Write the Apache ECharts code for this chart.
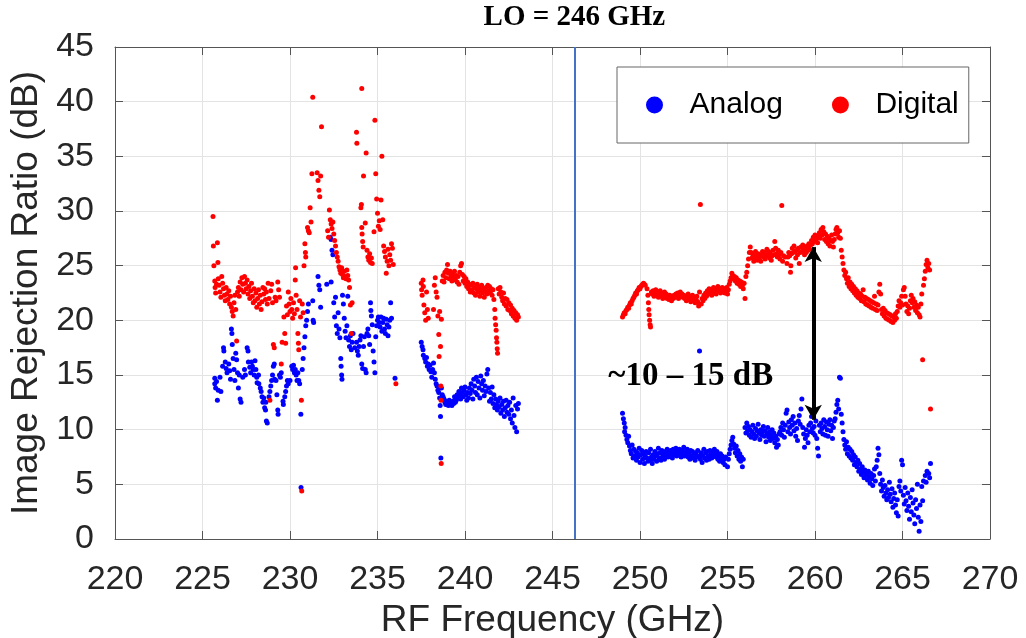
<!DOCTYPE html>
<html>
<head>
<meta charset="utf-8">
<script src="https://cdn.jsdelivr.net/npm/echarts@6/dist/echarts.min.js"></script>
<style>
html,body{margin:0;padding:0;background:#fff;}
#chart{width:1026px;height:638px;}
</style>
</head>
<body>
<div id="chart"></div>
<script>
// ---- axis ticks ----
const xTicks = [220, 225, 230, 235, 240, 245, 250, 255, 260, 265, 270];
const yTicks = [0, 5, 10, 15, 20, 25, 30, 35, 40, 45];
const seriesNames = ['Analog', 'Digital'];

// ---- annotation values ----
const loFreq = 246.25;
const titleText = 'LO = 246 GHz';
const gapText = '~10 \u2013 15 dB';
const gapX = 259.9, gapLow = 10.9, gapHigh = 26.7;
const gapTextAt = [252.9, 14.9];

// ---- Analog (blue) ----
const analogLow = [[225.7,14.7],[225.7,14.2],[225.75,13.8],[225.8,14.4],[225.85,12.7],[225.9,13.6],[226.0,14.8],[226.05,13.5],[226.15,15.8],[226.2,17.5],[226.22,17.2],[226.3,16.2],[226.35,15.6],[226.4,15.2],[226.5,16.0],[226.55,15.4],[226.6,14.6],[226.65,19.2],[226.68,18.8],[226.7,17.8],[226.75,16.5],[226.8,15.5],[226.85,14.5],[226.9,17.0],[226.95,16.4],[227.0,15.2],[227.05,13.8],[227.1,15.0],[227.15,12.8],[227.2,12.5],[227.3,14.8],[227.4,15.5],[227.45,15.0],[227.55,17.5],[227.6,17.2],[227.62,16.2],[227.7,15.7],[227.75,15.2],[227.8,16.2],[227.85,15.8],[227.9,15.5],[227.95,15.0],[228.0,16.3],[228.05,15.5],[228.1,14.8],[228.12,14.3],[228.2,15.0],[228.22,14.2],[228.3,13.8],[228.35,13.5],[228.4,13.0],[228.45,12.5],[228.5,12.9],[228.55,12.0],[228.6,11.8],[228.62,12.5],[228.65,10.8],[228.7,10.6],[228.8,13.0],[228.85,13.5],[228.9,14.0],[228.95,14.5],[229.0,15.0],[229.05,15.8],[229.1,16.0],[229.12,14.6],[229.2,14.5],[229.25,13.2],[229.3,11.8],[229.32,11.4],[229.4,15.0],[229.45,14.8],[229.5,15.2],[229.6,12.6],[229.62,12.3],[229.7,13.0],[229.75,13.5],[229.8,14.0],[229.85,14.5],[229.9,14.2],[230.0,14.5],[230.1,15.8],[230.15,15.5],[230.2,15.9],[230.25,15.2],[230.3,15.5],[230.35,15.0],[230.4,14.5],[230.45,15.2],[230.5,14.5],[230.55,14.2],[230.62,11.4],[230.63,4.7],[230.7,15.5],[230.75,16.5],[230.8,17.5],[230.85,18.5],[230.9,19.5],[230.95,20.0],[231.0,20.8],[231.05,21.5],[231.3,21.8],[231.32,20.0],[231.35,19.8],[231.6,24.0],[231.65,23.2],[231.7,22.8],[231.75,21.2],[232.1,23.3],[232.3,27.6],[232.35,27.4],[232.4,26.4],[232.45,26.0],[232.35,23.5],[232.5,21.6],[232.55,20.3],[232.6,22.1],[232.65,19.5],[232.7,18.8],[232.75,20.7],[232.8,19.2],[232.85,18.4],[232.9,16.5],[232.92,15.8],[232.95,15.0],[232.97,14.6],[233.0,22.3],[233.05,21.5],[233.1,20.2],[233.15,19.0],[233.2,18.4],[233.25,19.5],[233.3,22.2],[233.35,18.2],[233.4,17.6],[233.45,18.6],[233.5,17.3],[233.55,18.0],[233.6,18.8],[233.7,17.5],[233.8,18.0],[233.85,17.2],[233.9,16.8],[233.95,17.6],[234.0,18.2],[234.05,18.6],[234.1,16.0],[234.15,15.6],[234.2,17.6],[234.25,18.5],[234.3,15.5],[234.35,15.2],[234.4,18.8],[234.45,19.2],[234.5,18.6],[234.55,17.8],[234.6,21.6],[234.62,20.9],[234.65,20.4],[234.7,19.6],[234.75,17.2],[234.8,16.2],[234.85,15.2],[234.9,18.5],[234.95,19.5],[235.0,20.0],[235.05,20.3],[235.1,19.8],[235.15,19.4],[235.2,20.3],[235.25,19.0],[235.3,19.8],[235.35,20.2],[235.4,19.2],[235.45,18.8],[235.5,20.1],[235.55,19.6],[235.6,18.6],[235.65,19.4],[235.7,20.0],[235.75,21.6],[235.8,20.2],[236.0,14.7]];

const analogMid = [[237.5,18.0],[237.55,17.6],[237.6,17.3],[237.62,16.8],[237.7,16.5],[237.75,16.2],[237.8,16.6],[237.85,15.8],[237.9,16.0],[237.95,15.5],[238.0,15.9],[238.05,15.3],[238.1,14.8],[238.15,15.5],[238.2,16.1],[238.25,15.2],[238.3,14.6],[238.35,14.2],[238.4,14.0],[238.45,13.6],[238.5,13.4],[238.55,12.9],[238.58,12.2],[238.6,11.2],[238.62,7.4],[238.65,13.8],[238.7,13.2],[238.75,13.0],[238.8,12.8],[238.85,12.5],[238.9,12.3],[238.95,12.6],[239.0,12.4],[239.05,12.2],[239.1,12.7],[239.15,12.3],[239.2,12.5],[239.25,12.2],[239.3,12.6],[239.35,12.4],[239.4,13.0],[239.45,12.5],[239.5,12.7],[239.55,13.2],[239.6,12.9],[239.65,13.5],[239.7,13.2],[239.75,12.8],[239.8,13.8],[239.85,13.4],[239.9,13.0],[239.95,13.6],[240.0,13.9],[240.05,13.2],[240.1,12.7],[240.15,13.4],[240.2,12.9],[240.25,13.8],[240.3,13.3],[240.35,14.2],[240.4,13.6],[240.45,12.8],[240.5,14.6],[240.55,14.0],[240.6,13.4],[240.65,14.8],[240.7,13.2],[240.75,14.4],[240.8,13.8],[240.85,12.9],[240.9,14.9],[240.95,14.2],[241.0,13.6],[241.05,14.5],[241.1,13.1],[241.15,14.0],[241.2,13.5],[241.25,15.1],[241.3,15.5],[241.35,13.8],[241.4,12.6],[241.45,13.4],[241.5,12.8],[241.55,13.9],[241.6,12.4],[241.65,13.2],[241.7,12.0],[241.75,12.8],[241.8,12.3],[241.85,11.8],[241.9,12.6],[241.95,12.1],[242.0,12.9],[242.05,11.5],[242.1,12.3],[242.15,11.8],[242.2,12.6],[242.25,11.2],[242.3,12.0],[242.35,12.7],[242.4,11.6],[242.45,12.2],[242.5,11.4],[242.55,12.5],[242.6,11.0],[242.65,11.8],[242.7,10.6],[242.75,12.9],[242.8,11.3],[242.85,10.2],[242.9,12.2],[242.95,9.8],[243.0,11.9],[243.05,12.4]];

const analogHigh = [[249.0,11.5],[249.05,11.0],[249.1,10.6],[249.12,9.8],[249.15,10.2],[249.2,9.5],[249.25,9.1],[249.3,8.8],[249.35,9.4],[249.4,8.5],[249.45,8.1],[249.5,7.8],[249.55,8.6],[249.6,7.4],[249.65,8.2],[249.7,7.6],[249.75,8.0],[249.8,7.2],[249.85,7.9],[249.9,7.5],[249.95,8.3],[250.0,7.0],[250.05,7.7],[250.1,8.1],[250.15,7.3],[250.2,7.8],[250.25,6.9],[250.3,7.6],[250.35,8.0],[250.4,7.4],[250.45,7.1],[250.5,7.9],[250.55,7.2],[250.6,8.2],[250.65,7.5],[250.7,6.9],[250.75,7.7],[250.8,7.3],[250.85,8.0],[250.9,7.6],[250.95,7.1],[251.0,7.8],[251.05,8.3],[251.1,7.4],[251.15,7.9],[251.2,7.2],[251.25,8.1],[251.3,7.6],[251.35,7.9],[251.4,7.3],[251.45,8.0],[251.5,7.7],[251.55,8.2],[251.6,7.5],[251.65,7.9],[251.7,7.6],[251.75,8.1],[251.8,7.8],[251.85,7.4],[251.9,8.2],[251.95,7.7],[252.0,7.9],[252.05,8.3],[252.1,7.6],[252.15,8.0],[252.2,7.7],[252.25,8.2],[252.3,7.9],[252.35,7.5],[252.4,8.1],[252.45,7.8],[252.5,8.4],[252.55,7.6],[252.6,8.0],[252.65,7.7],[252.7,8.2],[252.75,7.5],[252.8,7.9],[252.85,7.3],[252.9,8.1],[252.95,7.6],[253.0,8.0],[253.05,7.4],[253.1,7.8],[253.15,7.2],[253.2,7.9],[253.25,7.5],[253.3,8.1],[253.35,7.6],[253.4,17.2],[253.45,7.3],[253.5,7.9],[253.55,7.0],[253.6,7.6],[253.65,8.2],[253.7,7.4],[253.75,7.9],[253.8,7.2],[253.85,8.0],[253.9,7.6],[253.95,7.3],[254.0,8.1],[254.05,7.7],[254.1,7.4],[254.15,8.0],[254.2,7.6],[254.25,8.2],[254.3,7.8],[254.35,7.5],[254.4,8.0],[254.45,7.3],[254.5,7.7],[254.55,7.1],[254.6,7.8],[254.65,7.4],[254.7,7.6],[254.75,7.0],[254.8,7.3],[254.85,6.8],[254.9,7.5],[255.0,6.6],[255.05,7.3],[255.1,7.8],[255.15,8.2],[255.2,8.6],[255.25,9.0],[255.3,9.3],[255.35,8.7],[255.4,8.3],[255.45,7.9],[255.5,8.5],[255.55,7.6],[255.6,8.1],[255.65,7.3],[255.7,7.8],[255.75,7.1],[255.8,7.5],[255.85,6.6],[255.9,7.3],[256.0,10.2],[256.05,9.7],[256.1,10.6],[256.15,9.9],[256.2,10.3],[256.25,9.5],[256.3,10.0],[256.35,9.3],[256.4,9.8],[256.45,10.4],[256.5,9.6],[256.55,9.2],[256.6,10.1],[256.65,9.4],[256.7,9.9],[256.75,10.5],[256.8,9.7],[256.85,9.1],[256.9,10.0],[256.95,9.5],[257.0,9.8],[257.05,10.3],[257.1,9.4],[257.15,9.9],[257.2,8.9],[257.25,9.6],[257.3,10.2],[257.35,9.3],[257.4,9.8],[257.45,9.0],[257.5,9.5],[257.55,10.0],[257.6,9.2],[257.65,9.7],[257.7,8.8],[257.75,9.4],[257.8,8.4],[257.85,9.1],[257.9,8.6],[257.95,9.6],[258.0,9.8],[258.05,10.2],[258.1,9.5],[258.15,10.6],[258.2,10.0],[258.25,9.3],[258.3,10.4],[258.35,11.5],[258.4,11.8],[258.45,9.8],[258.5,10.7],[258.55,10.2],[258.6,9.6],[258.65,10.9],[258.7,10.4],[258.75,11.2],[258.8,9.9],[258.85,10.6],[258.9,9.4],[258.95,10.1],[259.0,9.0],[259.05,10.8],[259.1,11.3],[259.15,10.5],[259.2,11.9],[259.25,12.8],[259.3,10.2],[259.35,9.6],[259.4,8.4],[259.45,9.2],[259.5,10.0],[259.55,9.5],[259.6,8.8],[259.65,10.4],[259.7,9.8],[259.75,10.6],[259.8,11.2],[259.85,10.1],[259.9,9.7],[259.95,10.3],[260.0,9.5],[260.05,10.8],[260.1,9.2],[260.15,8.3],[260.2,7.6],[260.25,10.4],[260.3,9.8],[260.35,10.6],[260.4,10.1],[260.45,9.6],[260.5,10.9],[260.55,10.3],[260.6,9.5],[260.65,10.7],[260.7,10.0],[260.75,9.4],[260.8,10.5],[260.85,10.9],[260.9,9.9],[260.95,10.4],[261.0,9.2],[261.05,10.2],[261.1,10.8],[261.15,11.0],[261.2,11.6],[261.25,12.3],[261.3,12.7],[261.35,11.9],[261.4,14.8],[261.45,14.7],[261.5,11.4],[261.55,10.6],[261.6,9.8],[261.65,9.1],[261.7,8.6],[261.75,8.2],[261.8,8.9],[261.85,7.8],[261.9,8.4],[261.95,7.6],[262.0,8.2],[262.05,7.4],[262.1,8.0],[262.15,7.2],[262.2,7.7],[262.25,6.8],[262.3,7.5],[262.35,7.0],[262.4,6.6],[262.45,7.2],[262.5,6.2],[262.55,6.9],[262.6,6.4],[262.65,5.9],[262.7,6.6],[262.75,6.1],[262.8,5.6],[262.85,6.3],[262.9,5.8],[262.95,6.0],[263.0,5.4],[263.05,6.2],[263.1,5.7],[263.15,5.1],[263.2,6.0],[263.25,5.5],[263.3,4.9],[263.35,5.8],[263.4,6.4],[263.45,5.3],[263.5,6.6],[263.55,7.2],[263.6,8.3],[263.65,7.7],[263.7,6.0],[263.75,5.0],[263.8,4.4],[263.85,5.4],[263.9,4.7],[263.95,3.9],[264.0,4.9],[264.05,4.2],[264.1,3.6],[264.15,4.5],[264.2,3.8],[264.25,5.2],[264.3,4.1],[264.35,3.4],[264.4,4.6],[264.45,2.9],[264.5,3.7],[264.55,4.2],[264.6,3.1],[264.65,2.4],[264.7,3.6],[264.75,2.1],[264.8,4.8],[264.85,5.3],[264.9,4.4],[264.95,7.2],[265.0,6.8],[265.05,4.0],[265.1,3.2],[265.15,4.7],[265.2,3.5],[265.25,2.6],[265.3,4.2],[265.35,3.0],[265.4,1.8],[265.45,3.8],[265.5,2.5],[265.55,4.5],[265.6,3.3],[265.65,2.2],[265.7,1.4],[265.75,3.6],[265.8,2.8],[265.85,5.0],[265.9,2.0],[265.95,0.7],[266.0,3.1],[266.05,1.6],[266.1,4.8],[266.15,3.5],[266.2,5.3],[266.3,5.8],[266.35,5.2],[266.4,6.2],[266.5,6.0],[266.55,5.6],[266.6,6.9]];

// ---- Digital (red) ----
const digitalLow = [[225.6,29.5],[225.62,26.8],[225.65,25.0],[225.7,23.6],[225.72,23.0],[225.75,22.5],[225.8,23.3],[225.85,27.1],[225.88,25.3],[225.9,23.8],[225.95,23.2],[226.0,22.6],[226.05,22.1],[226.1,24.0],[226.15,23.4],[226.2,22.9],[226.25,22.3],[226.3,21.8],[226.35,23.0],[226.4,22.4],[226.45,21.9],[226.5,22.7],[226.55,21.5],[226.6,22.2],[226.65,21.2],[226.7,20.8],[226.75,20.4],[226.8,21.6],[226.85,22.3],[226.9,21.0],[226.95,18.1],[227.0,22.6],[227.05,23.0],[227.1,22.2],[227.15,23.5],[227.2,22.8],[227.25,23.9],[227.3,23.3],[227.35,22.6],[227.4,24.0],[227.45,23.4],[227.5,22.9],[227.55,23.7],[227.6,22.4],[227.65,23.1],[227.7,22.0],[227.75,22.7],[227.8,23.4],[227.85,22.2],[227.9,21.6],[227.95,22.9],[228.0,21.8],[228.05,22.5],[228.1,21.2],[228.15,22.0],[228.2,22.8],[228.25,21.5],[228.3,22.3],[228.35,21.0],[228.4,21.7],[228.45,23.0],[228.5,22.4],[228.55,22.9],[228.6,21.9],[228.65,22.6],[228.7,21.5],[228.75,23.4],[228.8,22.0],[228.85,12.7],[228.9,22.7],[228.95,23.3],[229.0,21.6],[229.05,17.8],[229.1,17.5],[229.15,22.1],[229.2,21.8],[229.3,23.5],[229.35,22.8],[229.4,22.1],[229.5,16.0],[229.55,18.0],[229.65,20.3],[229.7,18.8],[229.75,17.9],[229.8,21.3],[229.85,20.5],[229.9,22.6],[229.95,21.5],[230.0,20.8],[230.05,22.0],[230.1,21.0],[230.15,20.2],[230.2,21.6],[230.25,20.6],[230.3,23.7],[230.32,24.8],[230.35,22.3],[230.4,21.0],[230.45,18.8],[230.48,17.9],[230.5,17.3],[230.55,21.8],[230.6,20.3],[230.65,12.7],[230.67,4.4],[230.7,21.5],[230.75,20.7],[230.8,25.0],[230.85,27.0],[230.88,26.2],[230.9,25.8],[231.0,28.5],[231.05,28.2],[231.1,28.0],[231.15,30.3],[231.2,29.0],[231.25,33.4],[231.3,40.4],[231.55,33.5],[231.6,32.8],[231.65,31.9],[231.7,31.3],[231.75,33.2],[231.8,37.7],[232.15,28.2],[232.2,27.6],[232.25,30.1],[232.3,29.2],[232.35,28.8],[232.4,28.4],[232.45,29.0],[232.5,27.9],[232.55,27.3],[232.6,26.8],[232.65,26.2],[232.7,25.8],[232.75,25.4],[232.8,24.9],[232.85,24.6],[232.9,24.3],[232.95,24.8],[233.0,24.2],[233.05,23.9],[233.1,24.5],[233.15,24.0],[233.2,23.8],[233.25,24.6],[233.3,24.1],[233.35,23.7],[233.4,23.0],[233.45,21.4],[233.5,18.8],[233.55,21.6],[233.8,37.2],[233.82,36.2],[234.05,30.3],[234.08,30.6],[234.1,28.5],[234.12,27.9],[234.15,27.2],[234.18,26.7],[234.1,41.2],[234.2,33.2],[234.3,28.9],[234.35,35.3],[234.4,26.4],[234.45,25.8],[234.5,25.5],[234.55,26.1],[234.6,25.3],[234.65,25.7],[234.7,25.2],[234.8,28.1],[234.85,38.3],[234.9,33.4],[234.95,31.1],[235.0,29.8],[235.05,28.6],[235.1,29.1],[235.15,28.3],[235.2,31.0],[235.25,35.0],[235.3,29.2],[235.35,26.8],[235.4,26.3],[235.45,25.8],[235.5,24.3],[235.55,25.4],[235.6,26.5],[235.65,25.0],[235.7,26.0],[235.75,25.5],[235.8,27.0],[235.85,26.6],[235.9,25.1],[236.05,14.2]];

const digitalMid = [[237.5,23.4],[237.52,22.8],[237.55,22.3],[237.6,23.7],[237.62,23.1],[237.65,21.4],[237.7,20.7],[237.75,20.0],[237.8,22.6],[237.85,21.0],[237.9,20.2],[238.2,21.0],[238.25,23.2],[238.3,23.9],[238.35,22.6],[238.4,22.1],[238.45,20.4],[238.5,18.7],[238.52,16.7],[238.55,20.8],[238.6,17.6],[238.62,14.0],[238.63,12.7],[238.64,6.9],[238.65,20.1],[238.7,23.6],[238.75,24.1],[238.8,23.5],[238.85,24.4],[238.9,23.9],[238.95,24.6],[239.0,25.1],[239.05,24.3],[239.1,23.8],[239.15,24.5],[239.2,24.0],[239.25,23.6],[239.3,24.2],[239.35,23.9],[239.4,24.5],[239.45,23.7],[239.5,24.1],[239.55,23.5],[239.6,24.0],[239.65,23.3],[239.7,24.4],[239.75,25.0],[239.8,25.2],[239.85,24.2],[239.9,23.6],[239.95,24.0],[240.0,23.4],[240.05,23.8],[240.1,23.1],[240.15,23.5],[240.2,22.9],[240.25,23.3],[240.3,22.6],[240.35,23.2],[240.4,22.8],[240.45,23.4],[240.5,22.5],[240.55,23.0],[240.6,22.3],[240.65,22.9],[240.7,23.3],[240.75,22.6],[240.8,23.0],[240.85,22.2],[240.9,22.7],[240.95,23.2],[241.0,22.5],[241.05,22.9],[241.1,22.1],[241.15,22.6],[241.2,23.0],[241.25,22.4],[241.3,23.2],[241.35,22.7],[241.4,23.1],[241.45,22.5],[241.5,22.9],[241.55,22.3],[241.6,22.8],[241.65,21.9],[241.7,21.0],[241.72,20.2],[241.75,19.6],[241.78,19.1],[241.8,18.4],[241.82,18.0],[241.84,17.4],[241.86,17.0],[241.9,22.9],[241.95,22.4],[242.0,23.0],[242.05,22.6],[242.1,22.1],[242.15,21.8],[242.2,22.5],[242.25,21.5],[242.3,22.0],[242.35,21.3],[242.4,21.9],[242.45,21.0],[242.5,21.6],[242.55,20.9],[242.6,21.4],[242.65,20.6],[242.7,21.1],[242.75,20.4],[242.8,20.9],[242.85,20.2],[242.9,20.7],[242.95,20.0],[243.0,20.5],[243.05,20.3]];

const digitalHigh = [[249.0,20.3],[249.05,20.5],[249.1,20.7],[249.15,20.6],[249.2,20.9],[249.25,21.0],[249.3,21.2],[249.35,21.1],[249.4,21.4],[249.45,21.6],[249.5,21.5],[249.55,21.8],[249.6,22.0],[249.65,22.1],[249.7,22.3],[249.75,22.5],[249.8,22.4],[249.85,22.7],[249.9,22.8],[249.95,23.0],[250.0,22.9],[250.05,23.1],[250.1,23.2],[250.15,23.3],[250.2,23.4],[250.25,23.3],[250.3,23.2],[250.4,22.9],[250.45,22.3],[250.48,21.6],[250.5,21.0],[250.52,20.5],[250.55,20.0],[250.58,19.6],[250.6,19.4],[250.65,22.6],[250.7,22.4],[250.75,22.7],[250.8,22.2],[250.85,22.5],[250.9,22.8],[250.95,22.3],[251.0,22.6],[251.05,22.1],[251.1,22.4],[251.15,22.7],[251.2,22.2],[251.25,22.5],[251.3,22.0],[251.35,22.3],[251.4,22.6],[251.45,22.1],[251.5,22.4],[251.55,22.0],[251.6,22.2],[251.65,21.9],[251.7,22.3],[251.75,22.1],[251.8,21.8],[251.85,22.2],[251.9,22.0],[251.95,22.3],[252.0,22.1],[252.05,22.4],[252.1,22.2],[252.15,22.5],[252.2,22.0],[252.25,22.3],[252.3,22.6],[252.35,22.2],[252.4,22.4],[252.45,22.1],[252.5,22.3],[252.55,22.0],[252.6,22.2],[252.65,21.8],[252.7,22.1],[252.75,22.4],[252.8,21.9],[252.85,22.2],[252.9,21.7],[252.95,22.0],[253.0,22.3],[253.05,21.8],[253.1,22.1],[253.15,21.6],[253.2,21.9],[253.25,22.2],[253.3,21.7],[253.35,21.3],[253.4,22.6],[253.45,30.6],[253.5,21.5],[253.55,22.0],[253.6,21.8],[253.65,22.3],[253.7,22.0],[253.75,22.5],[253.8,22.2],[253.85,22.7],[253.9,22.4],[253.95,22.9],[254.0,22.5],[254.05,22.8],[254.1,22.3],[254.15,22.7],[254.2,23.0],[254.25,22.6],[254.3,22.9],[254.35,22.4],[254.4,22.8],[254.45,23.1],[254.5,22.7],[254.55,22.9],[254.6,22.5],[254.65,22.8],[254.7,23.0],[254.75,22.6],[254.8,22.9],[254.85,22.5],[254.9,22.7],[254.95,23.0],[255.0,22.4],[255.05,22.8],[255.1,23.3],[255.15,23.6],[255.2,23.9],[255.25,24.3],[255.3,24.1],[255.35,23.8],[255.4,24.0],[255.45,23.6],[255.5,23.9],[255.55,23.4],[255.6,23.7],[255.65,23.3],[255.7,23.6],[255.75,23.1],[255.8,23.5],[255.85,23.2],[255.9,22.9],[255.95,23.4],[256.0,22.0],[256.05,24.0],[256.1,24.4],[256.15,25.0],[256.2,25.6],[256.25,26.2],[256.3,26.7],[256.35,26.2],[256.4,25.7],[256.45,26.0],[256.5,25.4],[256.55,25.8],[256.6,26.3],[256.65,25.9],[256.7,25.5],[256.75,26.1],[256.8,25.7],[256.85,26.0],[256.9,25.4],[256.95,25.9],[257.0,26.3],[257.05,25.8],[257.1,26.2],[257.15,25.6],[257.2,26.0],[257.25,26.5],[257.3,25.9],[257.35,26.3],[257.4,25.7],[257.45,26.1],[257.5,25.5],[257.55,25.9],[257.6,26.4],[257.65,26.0],[257.7,27.2],[257.75,26.6],[257.8,26.1],[257.85,25.8],[257.9,26.4],[257.95,26.0],[258.0,25.6],[258.05,26.2],[258.1,30.5],[258.15,25.4],[258.2,25.9],[258.3,25.8],[258.4,25.2],[258.45,25.8],[258.5,26.2],[258.55,25.9],[258.6,24.4],[258.62,25.0],[258.65,26.1],[258.7,26.6],[258.75,26.2],[258.8,26.8],[258.85,26.3],[258.9,25.7],[258.95,26.4],[259.0,26.0],[259.05,26.6],[259.1,25.2],[259.15,26.2],[259.2,26.7],[259.25,26.3],[259.3,26.9],[259.35,26.4],[259.4,26.0],[259.45,26.6],[259.5,26.2],[259.55,26.8],[259.6,26.4],[259.65,27.0],[259.7,26.5],[259.75,26.9],[259.8,27.3],[259.85,27.0],[259.9,27.6],[259.95,27.2],[260.0,27.8],[260.05,27.3],[260.1,27.7],[260.15,27.1],[260.2,27.6],[260.25,28.0],[260.3,27.5],[260.35,28.3],[260.4,27.8],[260.45,28.5],[260.5,28.1],[260.55,27.4],[260.6,27.9],[260.65,27.2],[260.7,27.7],[260.75,27.0],[260.8,27.5],[260.85,26.8],[260.9,27.3],[260.95,27.8],[261.0,27.2],[261.05,26.7],[261.1,27.4],[261.15,27.9],[261.2,28.3],[261.25,28.5],[261.3,28.0],[261.35,27.6],[261.4,28.2],[261.45,27.5],[261.5,26.4],[261.55,25.8],[261.6,25.2],[261.65,24.6],[261.7,24.1],[261.75,24.4],[261.8,23.8],[261.85,23.4],[261.9,23.9],[261.95,23.1],[262.0,23.5],[262.05,22.9],[262.1,23.3],[262.15,22.7],[262.2,23.1],[262.25,22.5],[262.3,22.9],[262.35,22.3],[262.4,22.7],[262.45,22.1],[262.5,22.5],[262.55,22.0],[262.6,22.4],[262.65,21.8],[262.7,22.2],[262.75,22.8],[262.8,21.7],[262.85,22.1],[262.9,21.5],[262.95,22.0],[263.0,21.4],[263.05,21.9],[263.1,21.3],[263.15,21.8],[263.2,21.2],[263.25,21.7],[263.3,21.1],[263.35,21.6],[263.4,22.2],[263.45,21.0],[263.5,21.5],[263.55,20.9],[263.6,21.4],[263.65,22.6],[263.7,23.3],[263.75,22.4],[263.8,21.0],[263.85,20.6],[263.9,21.1],[263.95,20.4],[264.0,20.9],[264.05,20.2],[264.1,20.7],[264.15,20.1],[264.2,20.6],[264.25,20.0],[264.3,20.5],[264.35,19.9],[264.4,20.4],[264.45,19.8],[264.5,20.3],[264.55,20.0],[264.6,20.6],[264.65,20.2],[264.7,20.8],[264.75,21.3],[264.8,21.8],[264.85,21.2],[264.9,21.6],[264.95,22.2],[265.0,21.4],[265.05,22.8],[265.1,23.0],[265.15,22.2],[265.2,21.5],[265.25,20.8],[265.3,21.3],[265.35,20.6],[265.4,21.1],[265.45,21.8],[265.5,22.3],[265.55,21.6],[265.6,22.0],[265.65,21.2],[265.7,21.7],[265.75,20.9],[265.8,21.4],[265.85,20.7],[265.9,21.2],[265.95,20.5],[266.0,20.3],[266.05,21.5],[266.1,22.4],[266.15,16.4],[266.2,23.2],[266.25,23.8],[266.3,24.5],[266.35,25.1],[266.4,25.5],[266.45,24.8],[266.5,25.2],[266.55,24.6],[266.6,11.9]];

const analogData = analogLow.concat(analogMid, analogHigh);
const digitalData = digitalLow.concat(digitalMid, digitalHigh);

const axisColor = '#555555';
const textColor = '#262626';
const sansFont = '"Liberation Sans", Arial, Helvetica, sans-serif';
const serifFont = '"Liberation Serif", "Times New Roman", serif';

const chart = echarts.init(document.getElementById('chart'), null, {renderer: 'canvas'});

const xMin = xTicks[0], xMax = xTicks[xTicks.length - 1], xStep = xTicks[1] - xTicks[0];
const yMin = yTicks[0], yMax = yTicks[yTicks.length - 1], yStep = yTicks[1] - yTicks[0];

const option = {
  animation: false,
  backgroundColor: '#ffffff',
  grid: {left: 115, right: 36, top: 47, bottom: 99, containLabel: false, outerBoundsMode: 'none'},
  legend: {
    data: seriesNames,
    left: 617, top: 67,
    orient: 'horizontal',
    icon: 'circle',
    itemWidth: 60, itemHeight: 17,
    itemGap: 49,
    padding: [23, 10, 23, 29],
    backgroundColor: '#ffffff',
    borderColor: '#666666',
    borderWidth: 1,
    textStyle: {fontFamily: sansFont, fontSize: 30, color: '#000000'}
  },
  xAxis: [{
    type: 'value', min: xMin, max: xMax, interval: xStep,
    name: 'RF Frequency (GHz)', nameLocation: 'middle', nameGap: 57,
    nameTextStyle: {fontFamily: sansFont, fontSize: 37, color: textColor},
    axisLine: {show: true, onZero: false, lineStyle: {color: axisColor, width: 1}},
    axisTick: {show: true, inside: true, length: 8, lineStyle: {color: axisColor}},
    axisLabel: {fontFamily: sansFont, fontSize: 34, color: textColor, margin: 24},
    splitLine: {show: true, lineStyle: {color: '#e3e3e3', width: 1}}
  }, {
    type: 'value', position: 'top', min: xMin, max: xMax, interval: xStep,
    axisLine: {show: true, onZero: false, lineStyle: {color: axisColor, width: 1}},
    axisTick: {show: true, inside: true, length: 8, lineStyle: {color: axisColor}},
    axisLabel: {show: false}, splitLine: {show: false}
  }],
  yAxis: [{
    type: 'value', min: yMin, max: yMax, interval: yStep,
    name: 'Image Rejection Ratio (dB)', nameLocation: 'middle', nameGap: 66,
    nameTextStyle: {fontFamily: sansFont, fontSize: 37, color: textColor},
    axisLine: {show: true, onZero: false, lineStyle: {color: axisColor, width: 1}},
    axisTick: {show: true, inside: true, length: 8, lineStyle: {color: axisColor}},
    axisLabel: {fontFamily: sansFont, fontSize: 34, color: textColor, margin: 21},
    splitLine: {show: true, lineStyle: {color: '#e3e3e3', width: 1}}
  }, {
    type: 'value', position: 'right', min: yMin, max: yMax, interval: yStep,
    axisLine: {show: true, onZero: false, lineStyle: {color: axisColor, width: 1}},
    axisTick: {show: true, inside: true, length: 8, lineStyle: {color: axisColor}},
    axisLabel: {show: false}, splitLine: {show: false}
  }],
  series: [{
    name: seriesNames[0], type: 'scatter', data: analogData,
    symbol: 'circle', symbolSize: 5,
    itemStyle: {color: '#0000ff', opacity: 1},
    markLine: {
      silent: true, symbol: 'none', animation: false,
      label: {show: false},
      lineStyle: {color: '#4472c4', width: 2, type: 'solid'},
      data: [{xAxis: loFreq}]
    },
    z: 2
  }, {
    name: seriesNames[1], type: 'scatter', data: digitalData,
    symbol: 'circle', symbolSize: 5,
    itemStyle: {color: '#ff0000', opacity: 1},
    markLine: {
      silent: true, animation: false,
      symbol: ['arrow', 'arrow'], symbolSize: [13, 15],
      label: {show: false},
      lineStyle: {color: '#000000', width: 4, type: 'solid'},
      data: [[{coord: [gapX, gapLow]}, {coord: [gapX, gapHigh]}]]
    },
    z: 3
  }]
};
chart.setOption(option);

const loPx = chart.convertToPixel({xAxisIndex: 0}, loFreq);
const txtPx = chart.convertToPixel({xAxisIndex: 0, yAxisIndex: 0}, gapTextAt);
chart.setOption({
  graphic: [{
    type: 'text', x: loPx, y: 18,
    style: {text: titleText, font: 'bold 29px ' + serifFont, fill: '#000000', textAlign: 'center', textVerticalAlign: 'middle'}
  }, {
    type: 'text', x: txtPx[0], y: txtPx[1], z: 10,
    style: {text: gapText, font: 'bold 33px ' + serifFont, fill: '#000000', textAlign: 'center', textVerticalAlign: 'middle'}
  }]
});
</script>
</body>
</html>
